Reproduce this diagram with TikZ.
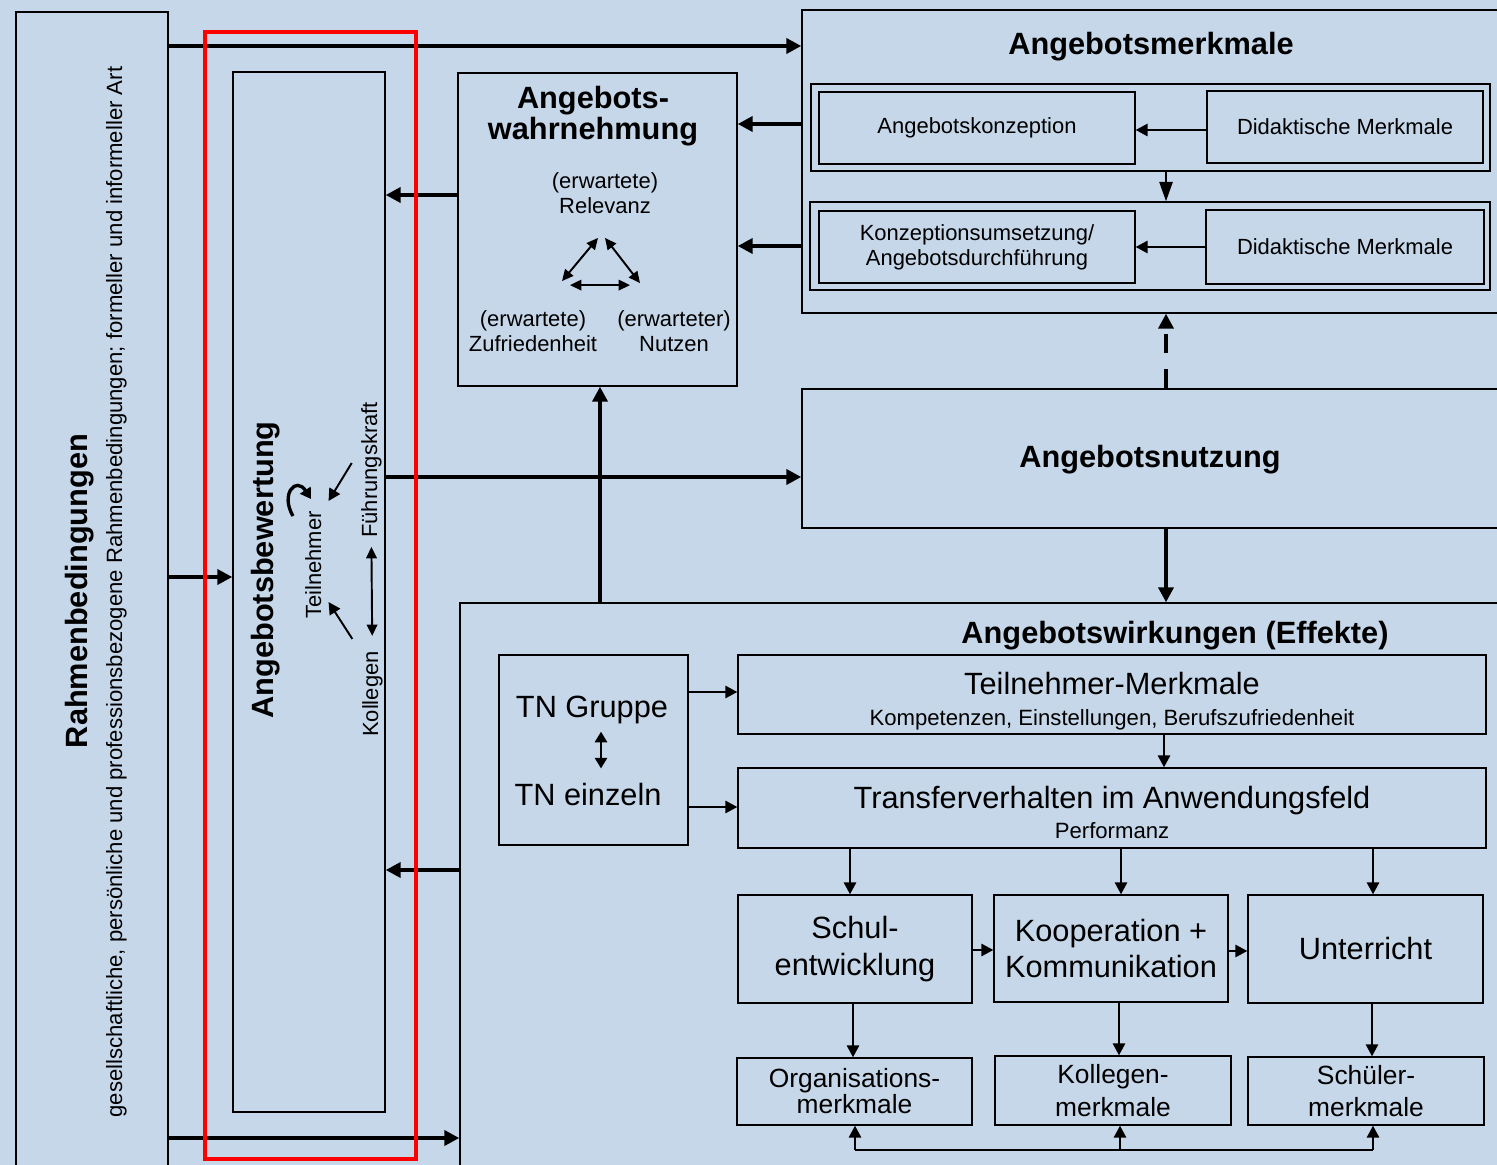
\documentclass[tikz,border=0pt]{standalone}
\usepackage{fontspec}
\setmainfont{Liberation Sans}
\usetikzlibrary{arrows.meta,fit,calc}
\definecolor{bgblue}{RGB}{198,215,233}
\definecolor{markred}{RGB}{255,0,0}

\begin{document}
\begin{tikzpicture}[x=0.02cm,y=-0.02cm,
		box/.style={draw=black, line width=0.8pt, inner sep=0pt, align=center},
		thickarr/.style={line width=2.3pt, -{Triangle[length=8.5pt,width=8.5pt]}},
		thinarr/.style={line width=1.1pt, -{Triangle[length=6.8pt,width=7pt]}},
		twoarr/.style={line width=1.1pt, {Triangle[length=6.5pt,width=6pt]}-{Triangle[length=6.5pt,width=6pt]}},
		headline/.style={font=\fontsize{17.5}{13.6}\bfseries\selectfont, inner sep=0pt, align=center},
		bigtext/.style={font=\fontsize{17.5}{21}\selectfont, align=center},
		midtext/.style={font=\fontsize{15}{18.7}\selectfont, align=center},
		smalltext/.style={font=\fontsize{12.5}{14.2}\selectfont, inner sep=0pt, align=center},
		tinytext/.style={font=\fontsize{12.6}{14}\selectfont, inner sep=0pt}]
		\useasboundingbox (0,0) rectangle (1497,1165);
		\clip (0,0) rectangle (1497,1165);
		\fill[bgblue] (0,0) rectangle (1497,1165);
		% outer frames
		\node[box, fit={(16,12) (168,1200)}] (rahmen) {};
		\node[box, fit={(233,72) (385,1112)}] (bewert) {};
		\node[box, fit={(458,73) (737,386)}] (wahr) {};
		\node[box, fit={(802,10) (1520,313)}] (merk) {};
		\node[box, fit={(802,389) (1520,528)}] (nutz) {};
		\node[box, fit={(460,603) (1520,1200)}] (wirk) {};
		% Rahmenbedingungen
		\node[headline, rotate=90, anchor=base] (rahmentitel) at (87,591) {Rahmenbedingungen};
		\node[tinytext, rotate=90, anchor=base] (rahmentext) at (122,592) {gesellschaftliche, persönliche und professionsbezogene Rahmenbedingungen; formeller und informeller Art};
		% Angebotsbewertung
		\node[headline, rotate=90, anchor=base] (bewerttitel) at (273,570) {Angebotsbewertung};
		\node[smalltext, rotate=90, anchor=base] (teiln) at (321,565) {Teilnehmer};
		\node[smalltext, rotate=90, anchor=base] (fuehr) at (377,470) {Führungskraft};
		\node[smalltext, rotate=90, anchor=base] (kolleg) at (378,694) {Kollegen};
		\draw[thinarr] ($(fuehr.north)+(-9,-7)$) -- ($(teiln.south east)+(7,-10)$);
		\draw[thinarr] ($(kolleg.east)+(-20,-12)$) -- ($(teiln.south west)+(7,-17)$);
		\draw[twoarr, shorten <=5pt, shorten >=8.5pt] (fuehr.west) -- (kolleg.east);
		\draw[line width=1.9pt, -{Triangle[length=6pt,width=7pt]}] (293,516) .. controls (280,494) and (296,476) .. (311,499);
		% Angebotswahrnehmung
		\node[headline] (wahrtitel) at (593,116) {Angebots-\\wahrnehmung};
		\node[smalltext] (relev) at (605,193) {(erwartete)\\Relevanz};
		\node[smalltext] (zufr) at (533,331) {(erwartete)\\Zufriedenheit};
		\node[smalltext] (nutzen) at (674,331) {(erwarteter)\\Nutzen};
		\draw[twoarr] ($(relev.south)+(-7,24)$) -- ($(zufr.north)+(29,-29)$);
		\draw[twoarr] ($(relev.south)+(0,24)$) -- ($(nutzen.north)+(-34,-27)$);
		\draw[twoarr] ($(zufr.north)+(37,-25)$) -- ($(nutzen.north)+(-44,-25)$);
		% Angebotsmerkmale
		\node[headline, anchor=base] (merktitel) at (1151,55) {Angebotsmerkmale};
		\node[box, fit={(811,84) (1490,171)}] (grp1) {};
		\node[box, fit={(810,202) (1490,290)}] (grp2) {};
		\node[box, smalltext, minimum width=6.32cm, minimum height=1.44cm] (konz) at (977,128) {Angebotskonzeption};
		\node[box, smalltext, minimum width=5.52cm, minimum height=1.44cm] (dida1) at (1345,127) {Didaktische Merkmale};
		\node[box, smalltext, minimum width=6.32cm, minimum height=1.44cm] (umsetz) at (977,247) {Konzeptionsumsetzung/\\Angebotsdurchführung};
		\node[box, smalltext, minimum width=5.56cm, minimum height=1.48cm] (dida2) at (1345,247) {Didaktische Merkmale};
		\draw[thinarr] (dida1.west |- 0,130) -- (konz.east |- 0,130);
		\draw[thinarr, -{Triangle[length=11pt,width=7.5pt]}] (grp1.south -| 1166,0) -- (grp2.north -| 1166,0);
		\draw[thinarr] (dida2.west |- 0,247) -- (umsetz.east |- 0,247);
		% Angebotsnutzung
		\node[headline, anchor=base] (nutztitel) at (1150,468) {Angebotsnutzung};
		% Angebotswirkungen
		\node[headline, anchor=base] (wirktitel) at (1175,643) {Angebotswirkungen (Effekte)};
		\node[box, fit={(499,655) (688,845)}] (tn) {};
		\node[bigtext, inner sep=0pt, anchor=base] (tngruppe) at (592,717) {TN Gruppe};
		\node[bigtext, inner sep=0pt, anchor=base] (tneinzeln) at (588,805) {TN einzeln};
		\draw[twoarr, {Triangle[length=6pt,width=7pt]}-{Triangle[length=6pt,width=7pt]}] ($(tngruppe.south)+(9,8)$) -- ($(tneinzeln.north)+(13,-14)$);
		\node[box, fit={(738,655) (1486,734)}] (tm) {};
		\node[bigtext, inner sep=0pt, anchor=base] (tmtitel) at (1112,694) {Teilnehmer-Merkmale};
		\node[tinytext, anchor=base] (tmtext) at (1112,725) {Kompetenzen, Einstellungen, Berufszufriedenheit};
		\node[box, fit={(738,768) (1486,848)}] (transfer) {};
		\node[bigtext, inner sep=0pt, anchor=base] (transfertitel) at (1112,808) {Transferverhalten im Anwendungsfeld};
		\node[tinytext, anchor=base] (transfertext) at (1112,838) {Performanz};
		\node[box, bigtext, minimum width=4.68cm, minimum height=2.16cm] (schul) at (855,949) {Schul-\\entwicklung};
		\node[box, bigtext, minimum width=4.68cm, minimum height=2.14cm] (koop) at (1111,948.5) {Kooperation +\\Kommunikation};
		\node[box, bigtext, minimum width=4.70cm, minimum height=2.16cm] (unterr) at (1365.5,949) {Unterricht};
		\node[box, midtext, font=\fontsize{15}{14.8}\selectfont, minimum width=4.70cm, minimum height=1.34cm] (org) at (854.5,1091.5) {Organisations-\\merkmale};
		\node[box, midtext, minimum width=4.72cm, minimum height=1.38cm] (koll) at (1113,1090.5) {Kollegen-\\merkmale};
		\node[box, midtext, minimum width=4.72cm, minimum height=1.36cm] (schueler) at (1366,1091) {Schüler-\\merkmale};
		\draw[thinarr] (tn.east |- 0,692) -- (tm.west |- 0,692);
		\draw[thinarr] (tn.east |- 0,807) -- (transfer.west |- 0,807);
		\draw[thinarr] (tm.south -| 1164,0) -- (transfer.north -| 1164,0);
		\foreach \dst/\xpos in {schul/850, koop/1121, unterr/1373}
			\draw[thinarr] (transfer.south -| \xpos,0) -- (\dst.north -| \xpos,0);
		\draw[thinarr] (schul.east |- 0,950) -- (koop.west |- 0,950);
		\draw[thinarr] (koop.east |- 0,951) -- (unterr.west |- 0,951);
		\foreach \src/\dst/\xpos in {schul/org/853, koop/koll/1119, unterr/schueler/1372}
			\draw[thinarr] (\src.south -| \xpos,0) -- (\dst.north -| \xpos,0);
		\coordinate (bus) at (1120,1150);
		\draw[line width=1.1pt] (bus -| 855,0) -- (bus -| 1373,0);
		\foreach \dst/\xpos in {org/855, koll/1120, schueler/1373}
			\draw[thinarr] (bus -| \xpos,0) -- (\dst.south -| \xpos,0);
		% connections between frames
		\draw[thickarr] (rahmen.east |- 0,46) -- (merk.west |- 0,46);
		\draw[thickarr] (rahmen.east |- 0,577) -- (bewert.west |- 0,577);
		\draw[thickarr] (rahmen.east |- 0,1138) -- (wirk.west |- 0,1138);
		\draw[thickarr] (wahr.west |- 0,195) -- (bewert.east |- 0,195);
		\draw[thickarr] (merk.west |- 0,124) -- (wahr.east |- 0,124);
		\draw[thickarr] (merk.west |- 0,246) -- (wahr.east |- 0,246);
		\draw[thickarr] (bewert.east |- 0,477) -- (nutz.west |- 0,477);
		\draw[thickarr] (wirk.north -| 600,0) -- (wahr.south -| 600,0);
		\draw[thickarr] (wirk.west |- 0,870) -- (bewert.east |- 0,870);
		\draw[thickarr, dash pattern=on 11pt off 9pt] (nutz.north -| 1166,0) -- (merk.south -| 1166,0);
		\draw[thickarr] (nutz.south -| 1166,0) -- (wirk.north -| 1166,0);
		% highlight
		\draw[markred, line width=2.8pt] (205,32) rectangle (416,1159);
	\end{tikzpicture}
\end{document}
